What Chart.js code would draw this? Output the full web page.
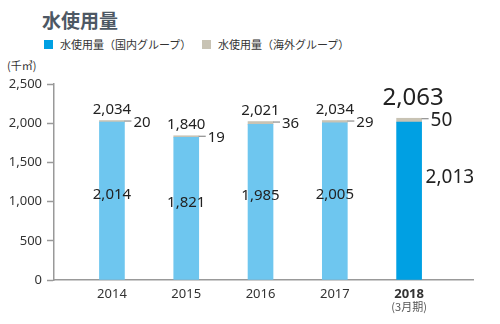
<!DOCTYPE html>
<html lang="ja">
<head>
<meta charset="utf-8">
<script src="https://cdn.jsdelivr.net/npm/chart.js@4/dist/chart.umd.min.js"></script>
<style>
  html, body { margin: 0; padding: 0; background: #fff; }
  body { width: 500px; height: 324px; position: relative; overflow: hidden;
         font-family: 'Noto Sans CJK JP', 'Noto Sans', sans-serif; }
  #wrap { position: absolute; left: 0; top: 0; width: 500px; height: 324px; }
  .title { position: absolute; left: 42px; top: 6px; font-size: 19px; font-weight: bold; color: #4d5864; }
  .legend { position: absolute; top: 36px; font-size: 11px; color: #333; display: flex; align-items: center; }
  .legend i { display: inline-block; width: 9px; height: 9px; margin-right: 7px; }
  .unit { position: absolute; left: 7px; top: 57px; font-size: 11px; color: #333; }
</style>
</head>
<body>
<div class="title">水使用量</div>
<div class="legend" style="left:44px"><i style="background:#00a0e3"></i>水使用量（国内グループ）</div>
<div class="legend" style="left:202px"><i style="background:#c8c3b4"></i>水使用量（海外グループ）</div>
<div class="unit">(千㎥)</div>
<div id="wrap"><canvas id="waterChart" width="500" height="324"></canvas></div>
<script>
const years = ['2014', '2015', '2016', '2017', '2018'];
const domestic = [2014, 1821, 1985, 2005, 2013];
const overseas = [20, 19, 36, 29, 50];
const yTicks = [0, 500, 1000, 1500, 2000, 2500];

const FONT = "'Noto Sans', 'Noto Sans CJK JP', sans-serif";
const lastIdx = years.length - 1;

const fmt = (v) => v.toLocaleString('en-US');

// value labels: totals on top, overseas with a short leader, domestic inside the bar
const labelPlugin = {
  id: 'valueLabels',
  afterDatasetsDraw(chart) {
    const ctx = chart.ctx;
    const dom = chart.getDatasetMeta(0).data;
    const ovs = chart.getDatasetMeta(1).data;
    ctx.save();
    ctx.fillStyle = '#222';
    years.forEach((y, i) => {
      const bar = dom[i];
      const top = ovs[i].y;
      const right = bar.x + bar.width / 2;
      const last = i === lastIdx;

      // total
      ctx.textAlign = 'center';
      ctx.textBaseline = 'alphabetic';
      ctx.font = (last ? '24px ' : '15px ') + FONT;
      ctx.fillText(fmt(domestic[i] + overseas[i]), bar.x + (last ? 4 : 0), top - (last ? 13 : 7));

      // overseas leader + value
      ctx.strokeStyle = '#777';
      ctx.lineWidth = 1;
      ctx.beginPath();
      ctx.moveTo(right, top + 0.5);
      ctx.lineTo(right + 7, top + 0.5);
      ctx.stroke();
      ctx.textAlign = 'left';
      ctx.textBaseline = 'middle';
      ctx.font = (last ? '19px ' : '15px ') + FONT;
      ctx.fillText(fmt(overseas[i]), right + 9, top + 2);

      // domestic
      ctx.font = (last ? '19px ' : '15px ') + FONT;
      const mid = (bar.y + bar.base) / 2;
      if (last) {
        ctx.textAlign = 'left';
        ctx.fillText(fmt(domestic[i]), right + 4, mid - 23);
      } else {
        ctx.textAlign = 'center';
        ctx.fillText(fmt(domestic[i]), bar.x, mid - 6);
      }
    });

    // fiscal period note under the last year
    const xs = chart.scales.x;
    ctx.textAlign = 'center';
    ctx.textBaseline = 'middle';
    ctx.fillStyle = '#555';
    ctx.font = '11px ' + "'Noto Sans CJK JP', sans-serif";
    ctx.fillText('(3月期)', xs.getPixelForValue(lastIdx), 307);
    ctx.restore();
  }
};

new Chart(document.getElementById('waterChart'), {
  type: 'bar',
  data: {
    datasets: [
      {
        label: '水使用量（国内グループ）',
        data: domestic.map((v, i) => ({ x: i, y: v })),
        backgroundColor: domestic.map((v, i) => i === lastIdx ? '#00a0e3' : '#6ec6ef'),
        barThickness: 25,
        stack: 'water'
      },
      {
        label: '水使用量（海外グループ）',
        data: overseas.map((v, i) => ({ x: i, y: v })),
        backgroundColor: '#c8c3b4',
        barThickness: 25,
        stack: 'water'
      }
    ]
  },
  plugins: [labelPlugin],
  options: {
    responsive: false,
    animation: false,
    layout: { padding: { left: 0, top: 84, right: 27, bottom: 0 } },
    plugins: {
      legend: { display: false },
      tooltip: { enabled: false }
    },
    scales: {
      x: {
        type: 'linear',
        min: -0.78,
        max: 4.86,
        offset: false,
        stacked: true,
        afterBuildTicks: (scale) => { scale.ticks = years.map((y, i) => ({ value: i })); },
        afterFit: (scale) => { scale.height = 44; },
        grid: { display: false, offset: false },
        border: { color: '#999', width: 1.5 },
        ticks: {
          padding: -2,
          color: '#333',
          autoSkip: false,
          maxRotation: 0,
          font: (c) => ({ family: FONT, size: 13, weight: c.index === lastIdx ? 'bold' : 'normal' }),
          callback: (v) => years[v]
        }
      },
      y: {
        min: 0,
        max: 2500,
        stacked: true,
        afterBuildTicks: (scale) => { scale.ticks = yTicks.map(v => ({ value: v })); },
        afterFit: (scale) => { scale.width = 54; },
        grid: { drawOnChartArea: false, tickLength: 7, color: '#999', tickWidth: 1.5 },
        border: { color: '#999', width: 1.5 },
        ticks: {
          padding: 5,
          color: '#333',
          font: { family: FONT, size: 13 },
          callback: (v) => fmt(v)
        }
      }
    }
  }
});
</script>
</body>
</html>
